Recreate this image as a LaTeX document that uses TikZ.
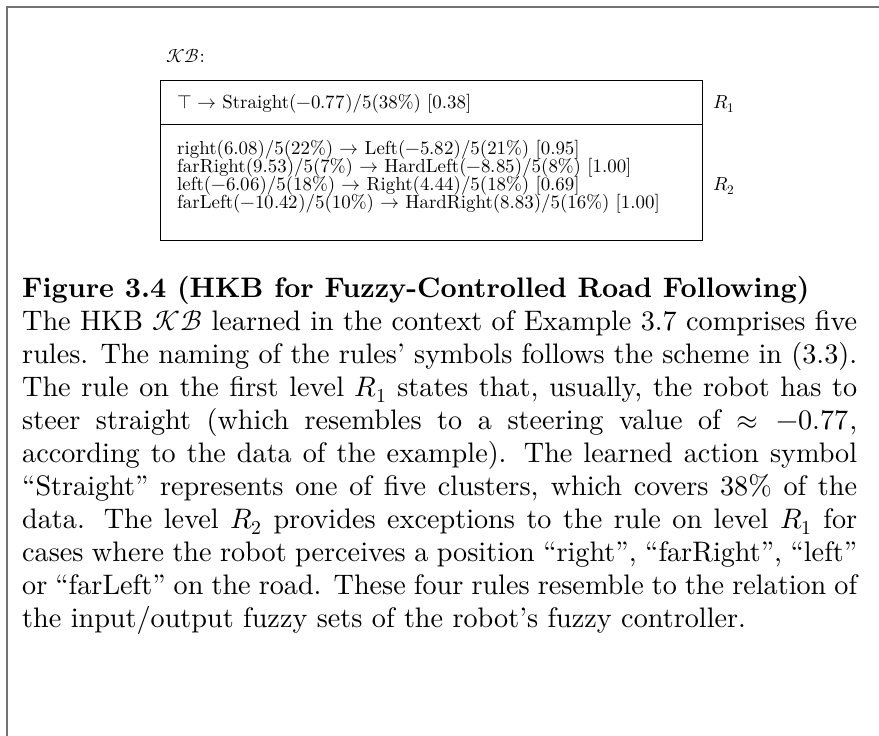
\documentclass[tikz,border=0pt]{standalone}
\usepackage{fontspec}
\usepackage{unicode-math}
\setmainfont{lmroman10-regular.otf}[
  BoldFont=lmroman10-bold.otf,
  ItalicFont=lmroman10-italic.otf,
  BoldItalicFont=lmroman10-bolditalic.otf]
\setmathfont{latinmodern-math.otf}
\tikzset{
  frame/.style={draw=black!55, line width=2pt},
  kbbox/.style={draw=black, line width=0.9pt},
  small/.style={font=\fontsize{18.9}{18}\selectfont, anchor=base west, inner sep=0pt},
  body/.style={font=\fontsize{28.2}{33}\selectfont, anchor=base west, inner sep=0pt},
}
\newcommand{\jline}[1]{\makebox[835pt][s]{#1}}
\begin{document}
\begin{tikzpicture}[x=1pt,y=-1pt]
\useasboundingbox (0,0) rectangle (879,736);
% open frame: left and top edges
\draw[frame] (7,736) -- (7,7) -- (879,7);

% knowledge base table
\node[small] (kb) at (166,62) {$\mathcal{KB}$:};
\draw[kbbox] (160,80) rectangle (702,240);
\draw[kbbox] (160,124) -- (702,124);
\node[small] (r1rule) at (177,108) {$\top\to$ Straight($-0.77$)/5(38\%) [0.38]};
\node[small] (r2a) at (177,154) {right(6.08)/5(22\%) $\to$ Left($-5.82$)/5(21\%) [0.95]};
\node[small] (r2b) at (177,172) {farRight(9.53)/5(7\%) $\to$ HardLeft($-8.85$)/5(8\%) [1.00]};
\node[small] (r2c) at (177,190) {left($-6.06$)/5(18\%) $\to$ Right(4.44)/5(18\%) [0.69]};
\node[small] (r2d) at (177,208) {farLeft($-10.42$)/5(10\%) $\to$ HardRight(8.83)/5(16\%) [1.00]};
\node[small] (l1) at (713,108) {$R_1$};
\node[small] (l2) at (713,190) {$R_2$};

% caption
\node[body] (c0) at (22,297) {\textbf{Figure 3.4 (HKB for Fuzzy-Controlled Road Following)}};
\node[body] (c1) at (22,330) {\jline{The HKB $\mathcal{KB}$ learned in the context of Example 3.7 comprises five}};
\node[body] (c2) at (22,363) {\jline{rules. The naming of the rules' symbols follows the scheme in (3.3).}};
\node[body] (c3) at (22,396) {\jline{The rule on the first level $R_1$ states that, usually, the robot has to}};
\node[body] (c4) at (22,429) {\jline{steer straight (which resembles to a steering value of $\approx -0.77$,}};
\node[body] (c5) at (22,462) {\jline{according to the data of the example). The learned action symbol}};
\node[body] (c6) at (22,495) {\jline{``Straight'' represents one of five clusters, which covers 38\% of the}};
\node[body] (c7) at (22,528) {\jline{data. The level $R_2$ provides exceptions to the rule on level $R_1$ for}};
\node[body] (c8) at (22,561) {\jline{cases where the robot perceives a position ``right'', ``farRight'', ``left''}};
\node[body] (c9) at (22,594) {\jline{or ``farLeft'' on the road. These four rules resemble to the relation of}};
\node[body] (c10) at (22,627) {the input/output fuzzy sets of the robot's fuzzy controller.};
\end{tikzpicture}
\end{document}
